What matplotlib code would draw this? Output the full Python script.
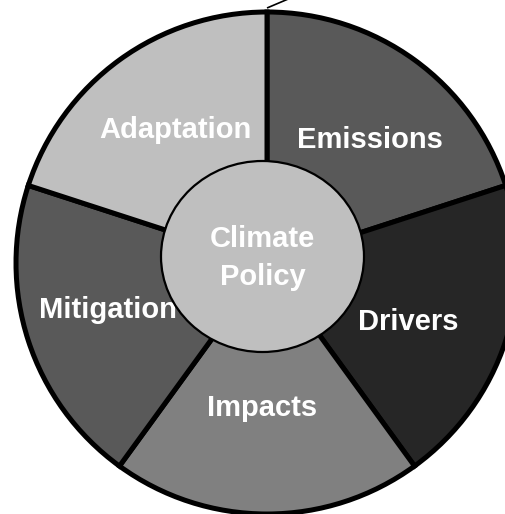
import matplotlib
matplotlib.use('Agg')
import matplotlib.pyplot as plt
from matplotlib.patches import Ellipse

# five equal sectors, clockwise from 12 o'clock
sectors = ['Emissions', 'Drivers', 'Impacts', 'Mitigation', 'Adaptation']
shares = [1, 1, 1, 1, 1]
shades = ['#595959', '#262626', '#808080', '#595959', '#bfbfbf']
hub_label = 'Climate\nPolicy'
hub_shade = '#bfbfbf'

plt.rcParams['font.family'] = ['Liberation Sans', 'DejaVu Sans']

W, H = 506, 514
fig = plt.figure(figsize=(W / 100, H / 100), dpi=100)
ax = fig.add_axes([0, 0, 1, 1])

cx, cy, R = 267, H - 263, 251
wedges, texts = ax.pie(
    shares, labels=sectors, colors=shades, startangle=90, counterclock=False,
    center=(cx, cy), radius=R, labeldistance=0.63,
    wedgeprops=dict(edgecolor='black', linewidth=3.6),
    textprops=dict(color='white', fontsize=21, fontweight='bold',
                   ha='center', va='center'))

# small nudges so labels sit where the original has them
nudges = {'Emissions': (10, -5), 'Drivers': (-9, -10), 'Impacts': (-5, 13),
          'Mitigation': (-9, 2), 'Adaptation': (1, 5)}
for t in texts:
    x, y = t.get_position()
    dx, dy = nudges[t.get_text()]
    t.set_position((x + dx, y + dy))
    t.set_ha('center')
    t.set_va('center')

hub = Ellipse((262.5, H - 256.5), 203, 191, facecolor=hub_shade,
              edgecolor='black', linewidth=1.6, zorder=5)
ax.add_patch(hub)
ax.text(262.5, H - 258, hub_label, color='white', fontsize=21,
        fontweight='bold', ha='center', va='center', zorder=6,
        linespacing=1.45)

# leader line leaving the top of the ring
ax.plot([267, 300], [H - 8, H + 6], color='black', linewidth=1.2,
        solid_capstyle='butt', zorder=7)

ax.set_xlim(0, W)
ax.set_ylim(0, H)
ax.set_aspect('equal', adjustable='datalim')
ax.axis('off')

fig.savefig('out.png', dpi=100)
